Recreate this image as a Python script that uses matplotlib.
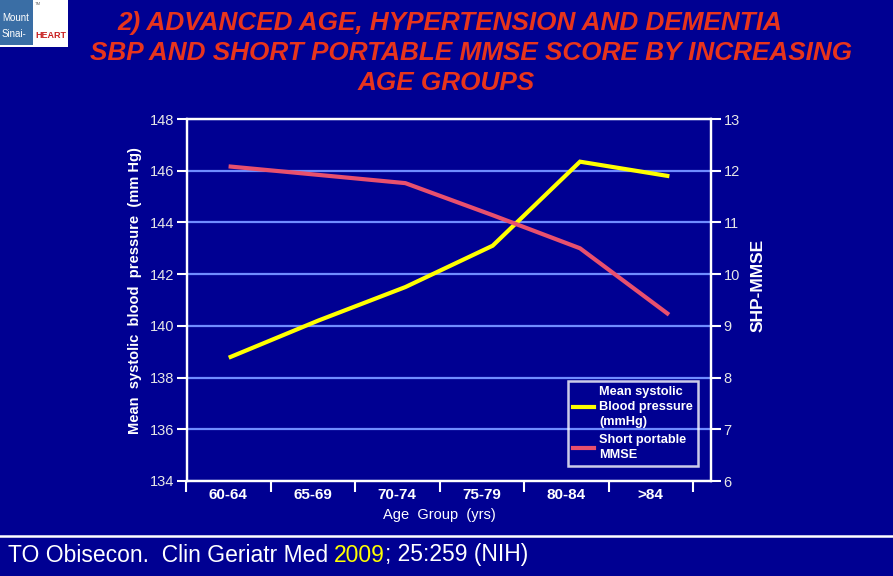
"""SBP and short portable MMSE score by increasing age groups (slide recreation)."""

import matplotlib
matplotlib.use("Agg")
import matplotlib.pyplot as plt
from matplotlib.lines import Line2D
from matplotlib.patches import Rectangle

# Data
age_groups = ["60-64", "65-69", "70-74", "75-79", "80-84", ">84"]
sbp_mmhg = [138.8, 140.2, 141.5, 143.1, 146.35, 145.8]
shp_mmse = [12.08, 11.92, 11.76, 11.14, 10.5, 9.24]
sbp_ticks = [134, 136, 138, 140, 142, 144, 146, 148]
mmse_ticks = [6, 7, 8, 9, 10, 11, 12, 13]

BG = "#000092"
GRID = "#6F8CFF"
TITLE_RED = "#E8341C"
SBP_YELLOW = "#FFFF00"
MMSE_PINK = "#E8506E"
TICK_GREY = "#E6E6E6"

plt.rcParams["font.family"] = ["Liberation Sans", "DejaVu Sans"]

W, H = 893, 576
fig = plt.figure(figsize=(W / 100, H / 100), dpi=100, facecolor=BG)


def fx(px):
    return px / W


def fy(py):
    return 1 - py / H


# Main plot box (left axis = SBP)
ax = fig.add_axes([fx(187), fy(481), fx(711) - fx(187), fy(119) - fy(481)])
ax.set_facecolor("none")
ax.set_zorder(3)
xs = range(len(age_groups))
ax.plot(xs, sbp_mmhg, color=SBP_YELLOW, lw=3, solid_joinstyle="miter", zorder=5)
ax.set_xlim(-0.5, len(age_groups) - 0.5)
ax.set_ylim(sbp_ticks[0], sbp_ticks[-1])
ax.set_yticks(sbp_ticks)
ax.set_xticks([])
ax.yaxis.grid(True, color=GRID, lw=1.6)
ax.set_axisbelow(True)
for spine in ax.spines.values():
    spine.set_color("white")
    spine.set_linewidth(1.6)
ax.tick_params(axis="y", colors="white", labelcolor=TICK_GREY, length=7, width=1.5,
               labelsize=10.5, pad=2)
ax.set_ylabel("Mean  systolic  blood  pressure  (mm Hg)", color="white", fontsize=10.5,
              fontweight="bold", labelpad=6)
ax.yaxis.label.set_y(0.525)

# Right axis = SHP-MMSE
ax2 = ax.twinx()
ax2.plot(xs, shp_mmse, color=MMSE_PINK, lw=3, zorder=4)
ax2.set_ylim(mmse_ticks[0], mmse_ticks[-1])
ax2.set_yticks(mmse_ticks)
for spine in ax2.spines.values():
    spine.set_color("white")
    spine.set_linewidth(1.6)
ax2.tick_params(axis="y", colors="white", labelcolor=TICK_GREY, length=7, width=1.5,
                labelsize=10.5, pad=2)
ax2.set_ylabel("SHP-MMSE", color="white", fontsize=12.5, fontweight="bold", labelpad=8)
ax2.yaxis.label.set_y(0.54)

# Category axis (slightly narrower than the plot box, as on the slide)
axc = fig.add_axes([fx(186), fy(481), fx(693) - fx(186), fy(119) - fy(481)])
axc.patch.set_visible(False)
for spine in axc.spines.values():
    spine.set_visible(False)
axc.set_xlim(-0.5, len(age_groups) - 0.5)
axc.set_yticks([])
axc.set_xticks(list(xs))
axc.set_xticklabels(age_groups, fontweight="bold", fontsize=11, color="white")
axc.set_xticks([i - 0.5 for i in range(len(age_groups) + 1)], minor=True)
axc.tick_params(axis="x", which="major", length=0, pad=5)
axc.tick_params(axis="x", which="minor", length=8, width=1.5, color="white")
axc.set_xlabel("Age  Group  (yrs)", color="white", fontsize=10.5, labelpad=4)

# Legend without background, box drawn in white
handles = [Line2D([], [], color=SBP_YELLOW, lw=3),
           Line2D([], [], color=MMSE_PINK, lw=3)]
labels = ["Mean systolic\nBlood pressure\n(mmHg)", "Short portable\nMMSE"]
leg = fig.legend(handles, labels, loc="upper left", bbox_to_anchor=(fx(568), fy(381)),
                 borderaxespad=0, frameon=True, fancybox=False, facecolor="none",
                 edgecolor="white", handlelength=1.6, handletextpad=0.45,
                 labelspacing=0.45, borderpad=0.4,
                 prop={"weight": "bold", "size": 9.2})
leg.get_frame().set_linewidth(1.8)
for txt in leg.get_texts():
    txt.set_color("white")
    txt.set_linespacing(1.35)

# Title
title_lines = ["2) ADVANCED AGE, HYPERTENSION AND DEMENTIA",
               "SBP AND SHORT PORTABLE MMSE SCORE BY INCREASING",
               "AGE GROUPS"]
title_x = [450, 471, 446]
title_y = [23, 53, 83]
for line, x, y in zip(title_lines, title_x, title_y):
    fig.text(fx(x), fy(y), line, color=TITLE_RED, fontsize=18.8, fontweight="bold",
             fontstyle="italic", ha="center", va="center")

# Logo (top-left)
fig.add_artist(Rectangle((0, fy(47)), fx(68), fy(0) - fy(47), transform=fig.transFigure,
                         facecolor="white", edgecolor="none"))
fig.add_artist(Rectangle((0, fy(45)), fx(33), fy(0) - fy(45), transform=fig.transFigure,
                         facecolor="#3A6EA5", edgecolor="none"))
fig.text(fx(2), fy(18), "Mount", color="white", fontsize=7, va="center", ha="left")
fig.text(fx(2), fy(34), "Sinai-", color="white", fontsize=7, va="center", ha="left")
fig.text(fx(51), fy(36), "HEART", color="#C82020", fontsize=6.5, fontweight="bold",
         va="center", ha="center")
fig.text(fx(35), fy(4), "TM", color="#666666", fontsize=3, va="center", ha="left")

# Footer rule and citation
fig.add_artist(Line2D([0, 1], [fy(536), fy(536)], transform=fig.transFigure,
                      color="white", lw=1.8))
t1 = fig.text(fx(8), fy(555), "TO Obisecon.  Clin Geriatr Med", color="white",
              fontsize=16.5, va="center", ha="left")
t2 = ax.annotate("2009", xy=(1, 0.5), xycoords=t1, xytext=(4, 0),
                 textcoords="offset points", color=SBP_YELLOW, fontsize=16.5,
                 va="center", ha="left", annotation_clip=False)
ax.annotate("; 25:259 (NIH)", xy=(1, 0.5), xycoords=t2, xytext=(0, 0),
            textcoords="offset points", color="white", fontsize=16.5,
            va="center", ha="left", annotation_clip=False)

fig.savefig("out.png", dpi=100, facecolor=BG)
